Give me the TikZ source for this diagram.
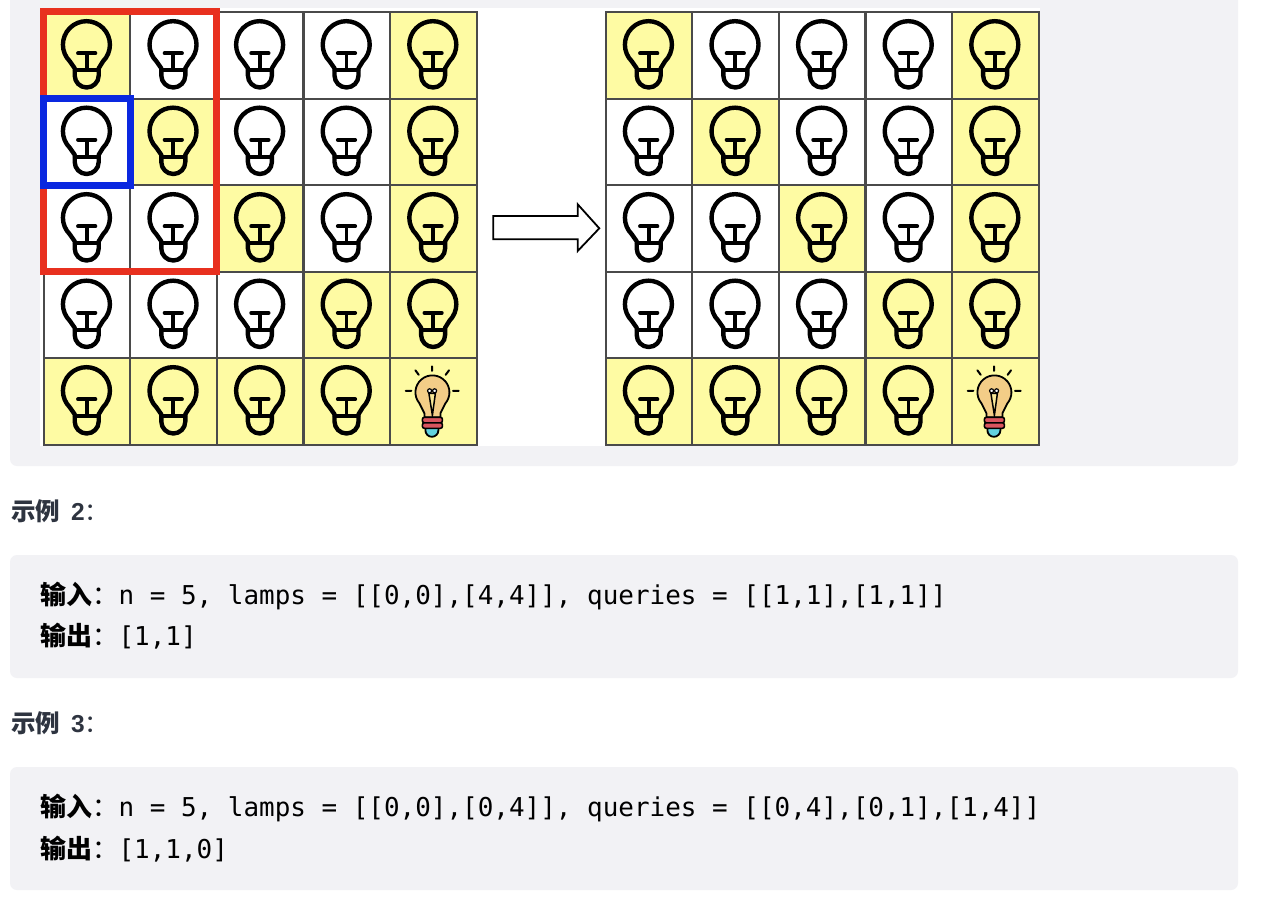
\documentclass[tikz,border=0pt]{standalone}
\usepackage{fontspec}
\setmainfont{Liberation Sans}
\setmonofont{DejaVu Sans Mono}
\newfontfamily\cjk{Noto Sans CJK SC}
\definecolor{panelgrey}{HTML}{F2F2F5}
\definecolor{lampyellow}{HTML}{FEFBA3}
\definecolor{gridgrey}{HTML}{4A4A4A}
\definecolor{framered}{HTML}{E8301F}
\definecolor{frameblue}{HTML}{0A28E0}
\definecolor{headcol}{HTML}{2E3440}
\definecolor{glow}{HTML}{F3CD87}
\definecolor{bandred}{HTML}{D9555F}
\definecolor{tipblue}{HTML}{62D2DE}
\newcommand{\plainbulb}{%
    \draw[line width=4.4pt,line join=round,line cap=round]
      (-12.3,20.2) -- (-12.3,13) -- (-17.2,6) arc[start angle=135,end angle=405,radius=23.5]
      -- (11.7,13) -- (11.7,20.2) arc[start angle=0,end angle=180,radius=12] -- cycle;
    \draw[line width=3.8pt,line cap=round] (-12.3,15) -- (11.7,15);
    \draw[line width=3.8pt] (-0.3,-2) -- (-0.3,15);
    \draw[line width=3.8pt,line cap=round] (-9,-2) -- (8.4,-2);
}
\tikzset{
  panel/.style={fill=panelgrey,draw=none,rounded corners=7pt},
  cell0/.style={draw=gridgrey,line width=2pt,fill=white,minimum size=86.5pt,inner sep=0pt,outer sep=0pt},
  cell1/.style={cell0,fill=lampyellow},
  cell2/.style={cell1},
  frame/.style={line width=7pt,miter limit=10},
  heading/.style={anchor=base west,inner sep=0pt,text=headcol,font=\fontsize{24.5}{28}\selectfont\bfseries},
  codeline/.style={anchor=base west,inner sep=0pt,text=black,font=\fontsize{25.95}{30}\ttfamily},
  pics/bulb0/.style={code={\plainbulb}},
  pics/bulb1/.style={code={\plainbulb}},
  pics/bulb2/.style={code={
    \draw[line width=1.8pt,fill=tipblue] (-8,26) -- (-8,29) arc[start angle=180,end angle=0,radius=6.5] -- (5,26) -- cycle;
    \draw[line width=1.8pt,fill=glow,line join=round]
      (-9,16) -- (-9,12) -- (-14,2) arc[start angle=140,end angle=400,radius=17] -- (7,12) -- (7,16) -- cycle;
    \draw[line width=1.5pt,fill=lampyellow!60!glow] (-4.5,-8) -- (-1,14) -- (2,-8) -- cycle;
    \draw[line width=1.2pt,fill=white] (-3.8,-10.5) circle (2);
    \draw[line width=1.2pt,fill=white] (1.2,-10.5) circle (2);
    \draw[line width=1.6pt,fill=bandred,rounded corners=2pt] (-11,16) rectangle (9,21.5);
    \draw[line width=1.6pt,fill=bandred,rounded corners=2pt] (-11,21.5) rectangle (9,27);
    \draw[line width=2pt,line cap=round]
      (-1.4,-35) -- (-1.4,-30.5) (-18,-31) -- (-14.7,-26.5) (15.6,-31) -- (12.3,-26.5)
      (-27.7,-10.5) -- (-22,-10.5) (19.6,-10.5) -- (25.3,-10.5);
  }},
}
\begin{document}
\begin{tikzpicture}[x=1pt,y=1pt,yscale=-1]
\useasboundingbox (0,0) rectangle (1264,910);
\fill[white] (0,0) rectangle (1264,910);
% panels
\path[panel] (10,-20) rectangle (1238,466);
\fill[white] (40,8) rectangle (1040,446);
\path[panel] (10,555) rectangle (1238,678);
\path[panel] (10,767) rectangle (1238,890);
% grids
\foreach \g/\gx in {L/87,R/649}{
  \foreach \rowlist [count=\r from 0] in {{1,0,0,0,1},{0,1,0,0,1},{0,0,1,0,1},{0,0,0,1,1},{1,1,1,1,2}}{
    \foreach \v [count=\c from 0] in \rowlist {
      \node[cell\v] (\g-\r-\c) at ({\gx+86.6*\c},{55.3+86.5*\r}) {};
      \pic[yscale=-1] at (\g-\r-\c.center) {bulb\v};
    }
  }
}
% frames
\draw[frame,framered] (43.5,11.5) rectangle (216.5,271.5);
\draw[frame,frameblue] (43.5,98.5) rectangle (130,185);
% arrow
\draw[line width=1.8pt,fill=white,line join=miter]
  (493.3,216) -- (577.7,216) -- (577.7,204.3) -- (599.3,228.3) -- (577.7,251) -- (577.7,239.3) -- (493.3,239.3) -- cycle;
% text
\node[heading] (h2) at (11,520) {{\cjk 示例} \,2{\cjk\mdseries ：}};
\node[codeline] (in2) at (40.5,604) {{\cjk\bfseries 输入}{\cjk ：}n = 5, lamps = [[0,0],[4,4]], queries = [[1,1],[1,1]]};
\node[codeline] (out2) at (40.5,645) {{\cjk\bfseries 输出}{\cjk ：}[1,1]};
\node[heading] (h3) at (11,732) {{\cjk 示例} \,3{\cjk\mdseries ：}};
\node[codeline] (in3) at (40.5,816) {{\cjk\bfseries 输入}{\cjk ：}n = 5, lamps = [[0,0],[0,4]], queries = [[0,4],[0,1],[1,4]]};
\node[codeline] (out3) at (40.5,858) {{\cjk\bfseries 输出}{\cjk ：}[1,1,0]};
\end{tikzpicture}
\end{document}
